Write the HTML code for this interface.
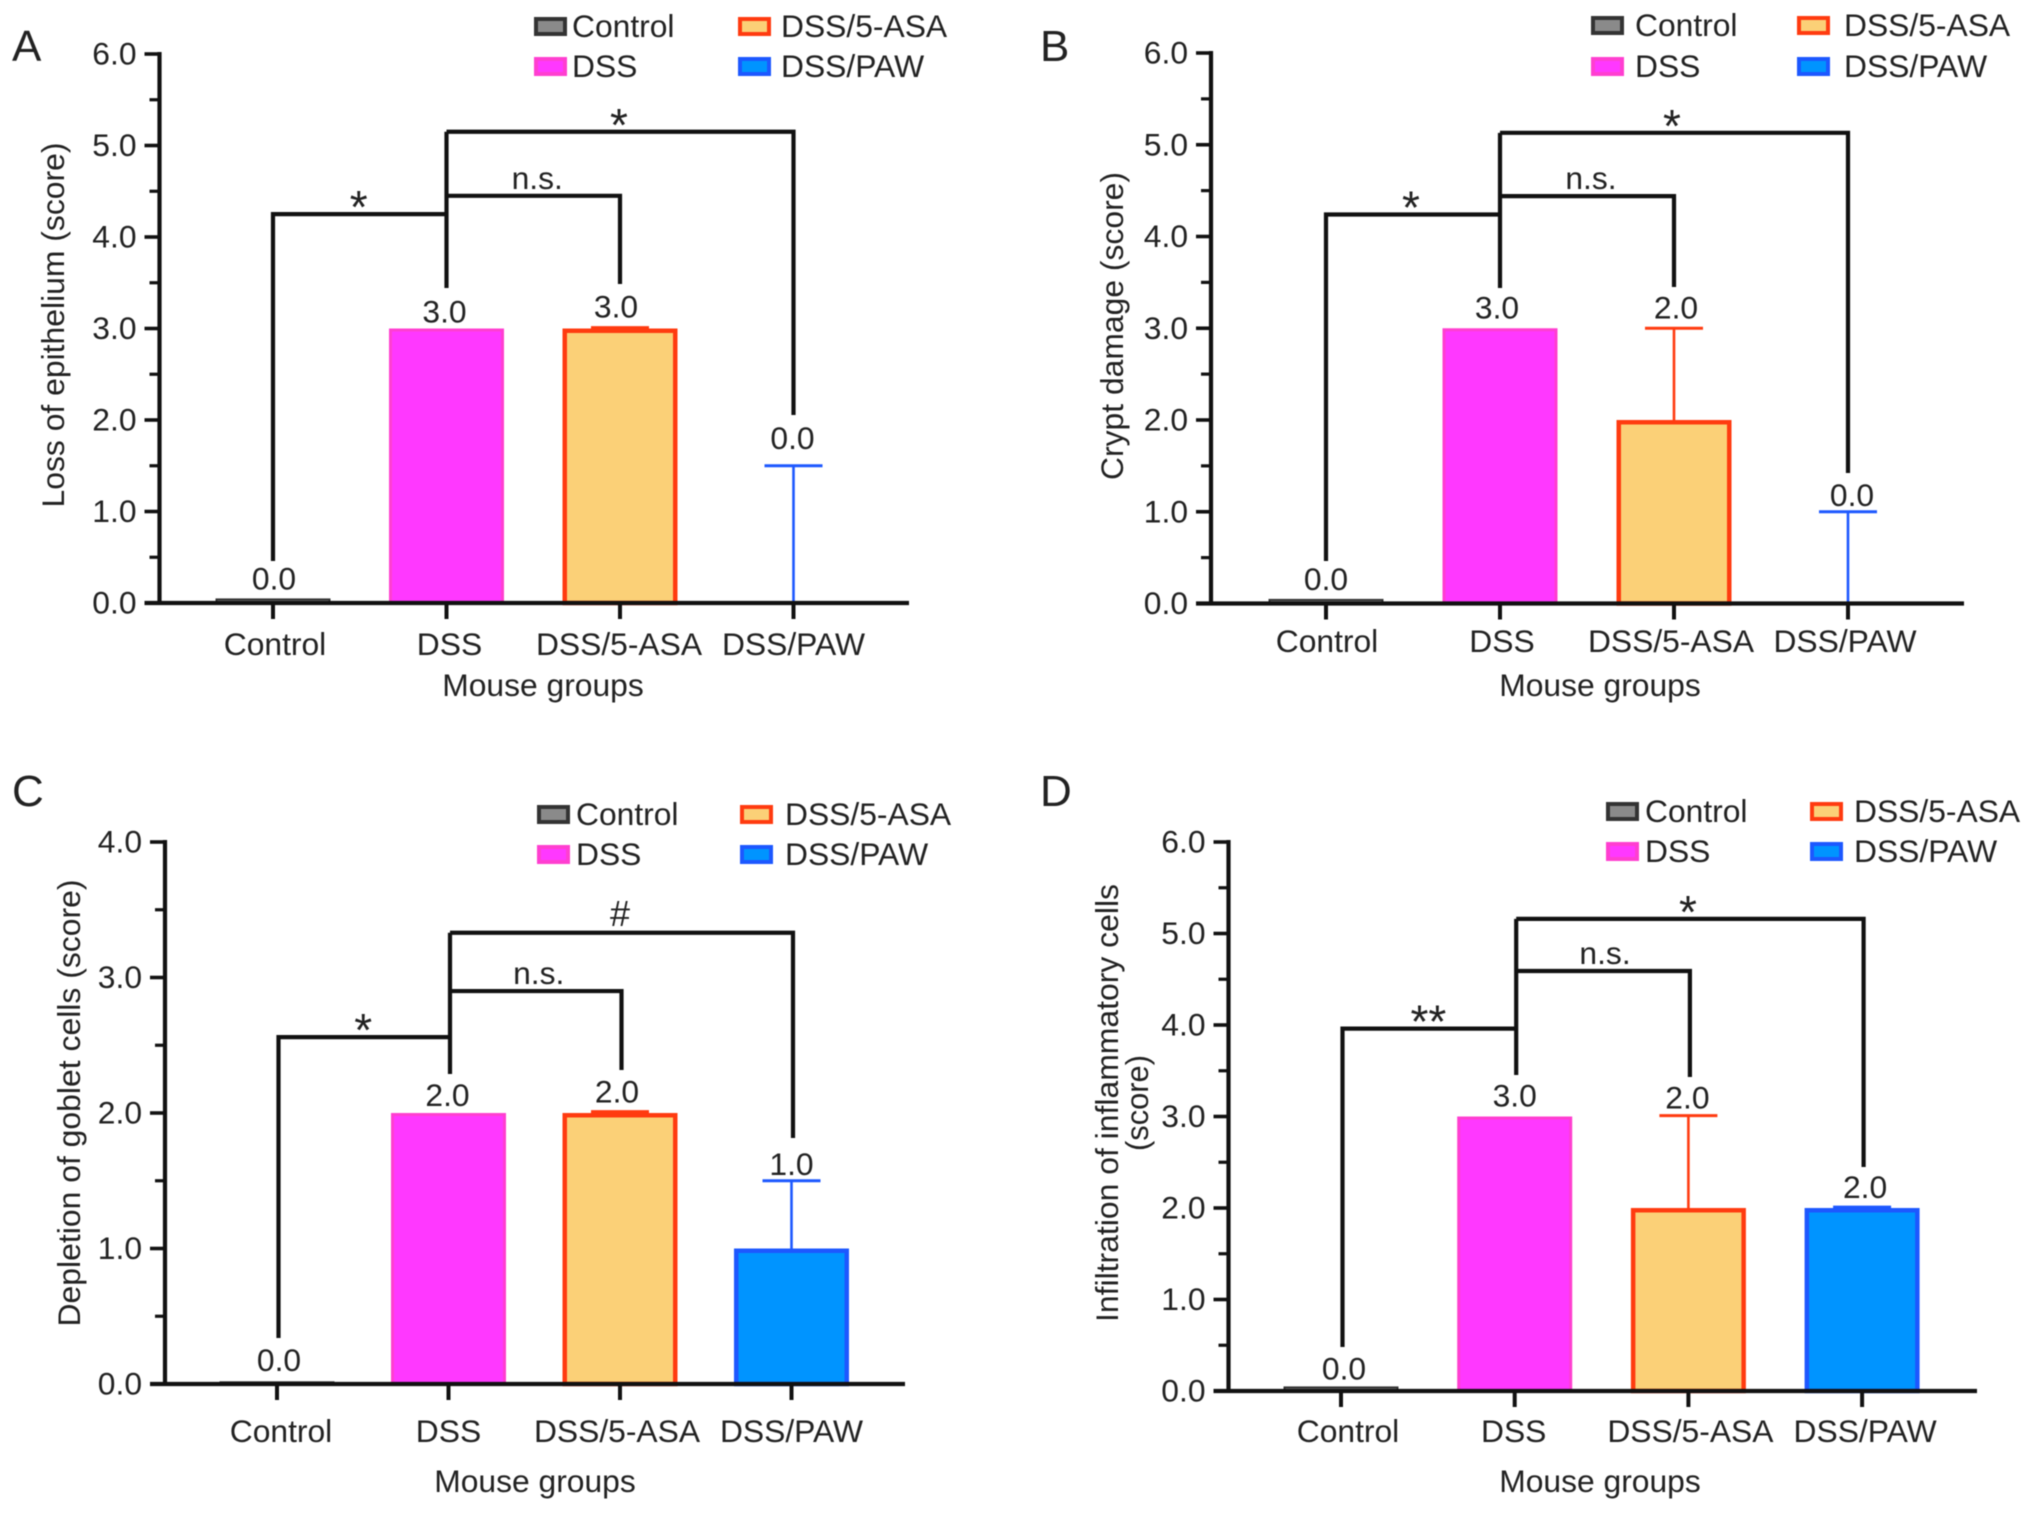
<!DOCTYPE html>
<html lang="en">
<head>
<meta charset="utf-8">
<title>Mouse group scores</title>
<style>
html,body{margin:0;padding:0;background:#fff;width:2032px;height:1513px;overflow:hidden}
svg{display:block;filter:blur(0.55px)}
text{font-family:"Liberation Sans",sans-serif;fill:#222;font-size:31.8px}
</style>
</head>
<body>
<svg id="figure" xmlns="http://www.w3.org/2000/svg" width="2032" height="1513" viewBox="0 0 2032 1513">
<rect x="0" y="0" width="2032" height="1513" fill="#fff"/>
</svg>
<script>
// ---- data ----
const categories = ['Control', 'DSS', 'DSS/5-ASA', 'DSS/PAW'];
const ticksSix = ['0.0', '1.0', '2.0', '3.0', '4.0', '5.0', '6.0'];
const ticksFour = ['0.0', '1.0', '2.0', '3.0', '4.0'];

const valuesA = [0.05, 3, 3, 0];
const errorsA = [0, 0, 3.01, 1.5];
const printedA = ['0.0', '3.0', '3.0', '0.0'];
const sigA = ['*', 'n.s.', '*'];
const levelsA = [4.25, 4.45, 5.15];

const valuesB = [0.05, 3, 2, 0];
const errorsB = [0, 0, 3, 1];
const printedB = ['0.0', '3.0', '2.0', '0.0'];
const sigB = ['*', 'n.s.', '*'];
const levelsB = [4.24, 4.44, 5.13];

const valuesC = [0.02, 2, 2, 1];
const errorsC = [0, 0, 2.01, 1.5];
const printedC = ['0.0', '2.0', '2.0', '1.0'];
const sigC = ['*', 'n.s.', '#'];
const levelsC = [2.56, 2.9, 3.33];

const valuesD = [0.05, 3, 2, 2];
const errorsD = [0, 0, 3.01, 2.01];
const printedD = ['0.0', '3.0', '2.0', '2.0'];
const sigD = ['**', 'n.s.', '*'];
const levelsD = [3.96, 4.59, 5.16];

// ---- styling and layout ----
const fills = ['#8a8a8a', '#ff38ff', '#fbd077', '#0094ff'];
const strokes = ['#333333', '#ff3fd0', '#ff3b10', '#1d58ff'];
const svgNS = 'http://www.w3.org/2000/svg';
const svg = document.getElementById('figure');

function mk(parent, tag, attrs, txt) {
  const n = document.createElementNS(svgNS, tag);
  for (const k in attrs) n.setAttribute(k, attrs[k]);
  if (txt !== undefined) n.textContent = txt;
  parent.appendChild(n);
  return n;
}

function drawPanel(p) {
  const g = mk(svg, 'g', {});
  
  

  const top = parseFloat(p.ticks[p.ticks.length - 1]);
  const yScale = v => p.y0 - v * (p.y0 - p.yTop) / top;
  const xScale = i => p.x0 + i * p.step;
  const barW = 115;
  const capW = 58;

  let el = mk(g, 'text', {x: p.letter[0], y: p.letter[1], style: 'font-size:44px'}, p.letter[2]);
  
  

  // bars
  p.values.forEach((v, i) => {
    const sw = i === 2 || i === 3 ? 4.5 : (i === 1 ? 3 : 2);
    if (v > 0) {
      const bar = mk(g, 'rect', {
        x: xScale(i) - barW / 2 + sw / 2 + p.barShift, y: yScale(v) + sw / 2,
        width: barW - sw, height: Math.max(p.y0 - yScale(v) - sw / 2, 1),
        fill: fills[i], stroke: strokes[i], 'stroke-width': sw
      });
      
      
    }
  });

  // error bars
  p.errors.forEach((e, i) => {
    if (e > p.values[i]) {
      const cx = xScale(i);
      const stem = mk(g, 'line', {x1: cx, x2: cx, y1: yScale(p.values[i]), y2: yScale(e), stroke: strokes[i], 'stroke-width': 2.6});
      
      
      const cap = mk(g, 'line', {x1: cx - capW / 2, x2: cx + capW / 2, y1: yScale(e), y2: yScale(e), stroke: strokes[i], 'stroke-width': 3});
      
      
    }
  });

  // y axis
  el = mk(g, 'line', {x1: p.axisX, x2: p.axisX, y1: yScale(top) - 2, y2: p.y0 + 2, stroke: '#111', 'stroke-width': 4.2});
  
  
  p.ticks.forEach((t, i) => {
    const v = parseFloat(t);
    const tick = mk(g, 'line', {x1: p.axisX - 15, x2: p.axisX, y1: yScale(v), y2: yScale(v), stroke: '#111', 'stroke-width': 3.6});
    
    
    const lab = mk(g, 'text', {x: p.axisX - 23, y: yScale(v) + 10.5, 'text-anchor': 'end'}, t);
    
    
    if (i < p.ticks.length - 1) {
      const mid = v + 0.5;
      const minor = mk(g, 'line', {x1: p.axisX - 10, x2: p.axisX, y1: yScale(mid), y2: yScale(mid), stroke: '#111', 'stroke-width': 3.2});
      
      
    }
  });

  // x axis
  el = mk(g, 'line', {x1: p.axisX - 15, x2: p.xEnd, y1: p.y0, y2: p.y0, stroke: '#111', 'stroke-width': 4.2});
  
  
  categories.forEach((c, i) => {
    const tick = mk(g, 'line', {x1: xScale(i), x2: xScale(i), y1: p.y0, y2: p.y0 + 16, stroke: '#111', 'stroke-width': 4});
    
    
    const lab = mk(g, 'text', {x: xScale(i) + p.catShift[i], y: p.catY, 'text-anchor': 'middle'}, c);
    
    
  });

  // axis titles
  el = mk(g, 'text', {x: p.xTitle[0], y: p.xTitle[1], 'text-anchor': 'middle'}, 'Mouse groups');
  
  
  p.yTitle.forEach(t => {
    const lab = mk(g, 'text', {
      x: 0, y: 0, 'text-anchor': 'middle', textLength: t[3], lengthAdjust: 'spacingAndGlyphs',
      transform: 'translate(' + t[1] + ',' + t[2] + ') rotate(-90)'
    }, t[0]);
    
    
  });

  // printed values
  p.printed.forEach((t, i) => {
    const base = Math.max(p.values[i], p.errors[i]);
    const lab = mk(g, 'text', {x: xScale(i) + p.valShift[i], y: yScale(base) - p.valGap[i], 'text-anchor': 'middle'}, t);
    
    
  });

  // significance brackets: 0 = Control-DSS, 1 = DSS-5-ASA, 2 = DSS-PAW
  // drops: [control end, 5-ASA end, PAW end, DSS stem end]
  const spans = [[0, 1], [1, 2], [1, 3]];
  spans.forEach((s, i) => {
    const yL = yScale(p.levels[i]);
    const a = xScale(s[0]) + p.brShift;
    const b = xScale(s[1]) + p.brShift;
    const d = 'M' + a + ' ' + (s[0] === 0 ? p.drops[0] : yL) + 'V' + yL + 'H' + b + 'V' + (s[0] === 0 ? yL : p.drops[i]);
    const br = mk(g, 'path', {d: d, fill: 'none', stroke: '#111', 'stroke-width': 4.2});
    
    
    const mark = p.sig[i];
    const isStar = mark.indexOf('*') === 0;
    const tx = (a + b) / 2 + p.sigShift[i];
    const ty = isStar ? yL + 9 : yL - 7;
    const style = isStar ? 'font-size:46px' : (mark === '#' ? 'font-size:36px' : '');
    const lab = mk(g, 'text', {x: tx, y: ty, 'text-anchor': 'middle', style: style}, mark);
    
    
  });
  // DSS stem down from the top bracket
  const stem = mk(g, 'line', {x1: xScale(1) + p.brShift, x2: xScale(1) + p.brShift, y1: yScale(p.levels[2]), y2: p.drops[3], stroke: '#111', 'stroke-width': 4.2});
  
  

  // legend
  const lg = mk(g, 'g', {});
  
  
  categories.forEach((c, i) => {
    const col = i < 2 ? 0 : 1;
    const row = i % 2;
    const sx = p.legend.swatchX[col];
    const sy = p.legend.rowY[row];
    const sw = mk(lg, 'rect', {x: sx + 2, y: sy + 2, width: 29, height: 15, fill: fills[i], stroke: strokes[i], 'stroke-width': 4});
    
    
    const lab = mk(lg, 'text', {x: p.legend.textX[col], y: sy + 20}, c);
    
    
  });
}

drawPanel({
  name: 'panel-a', letter: [12, 61, 'A'], ticks: ticksSix, values: valuesA, errors: errorsA, printed: printedA,
  sig: sigA, levels: levelsA, axisX: 159.5, y0: 603, yTop: 54, x0: 273, step: 173.5, xEnd: 909, barShift: 0, catY: 655,
  catShift: [2, 3, -1, 0], xTitle: [543, 696], yTitle: [['Loss of epithelium (score)', 64, 325, 365]],
  valShift: [1, -2, -4, -1], valGap: [9, 6, 10, 17], brShift: 0, drops: [561, 284, 415, 288], sigShift: [-1, 4, -1],
  legend: {swatchX: [534, 738], rowY: [17, 57], textX: [572, 781]}
});
drawPanel({
  name: 'panel-b', letter: [1040, 61, 'B'], ticks: ticksSix, values: valuesB, errors: errorsB, printed: printedB,
  sig: sigB, levels: levelsB, axisX: 1211, y0: 603.5, yTop: 53, x0: 1326, step: 174, xEnd: 1964, barShift: 0, catY: 652,
  catShift: [1, 2, -3, -3], xTitle: [1600, 696], yTitle: [['Crypt damage (score)', 1123, 326, 308]],
  valShift: [0, -3, 2, 4], valGap: [9, 10, 10, 6], brShift: 0, drops: [561, 287, 473, 288], sigShift: [-2, 4, -2],
  legend: {swatchX: [1591, 1797], rowY: [16, 57], textX: [1635, 1844]}
});
drawPanel({
  name: 'panel-c', letter: [12, 806, 'C'], ticks: ticksFour, values: valuesC, errors: errorsC, printed: printedC,
  sig: sigC, levels: levelsC, axisX: 165, y0: 1384, yTop: 842, x0: 277, step: 171.5, xEnd: 905, barShift: 0, catY: 1442,
  catShift: [4, 0, -3, 0], xTitle: [535, 1492], yTitle: [['Depletion of goblet cells (score)', 80, 1103, 447]],
  valShift: [2, -1, -3, 0], valGap: [10.5, 7, 9, 6], brShift: 1.5, drops: [1338, 1070, 1138, 1074], sigShift: [-1, 3, -1.5],
  legend: {swatchX: [537, 740], rowY: [805, 845], textX: [576, 785]}
});
drawPanel({
  name: 'panel-d', letter: [1040, 806, 'D'], ticks: ticksSix, values: valuesD, errors: errorsD, printed: printedD,
  sig: sigD, levels: levelsD, axisX: 1228.5, y0: 1391, yTop: 842, x0: 1341, step: 173.7, xEnd: 1977, barShift: 0, catY: 1442,
  catShift: [7, -1, 2, 3], xTitle: [1600, 1492], yTitle: [['Infiltration of inflammatory cells', 1118, 1103, 438], ['(score)', 1148, 1103, 96]],
  valShift: [3, 0, -1, 3], valGap: [7, 10, 7, 9], brShift: 1.5, drops: [1347, 1077, 1167, 1075], sigShift: [-1, 2, -2],
  legend: {swatchX: [1606, 1810], rowY: [802, 842], textX: [1645, 1854]}
});
</script>
</body>
</html>
